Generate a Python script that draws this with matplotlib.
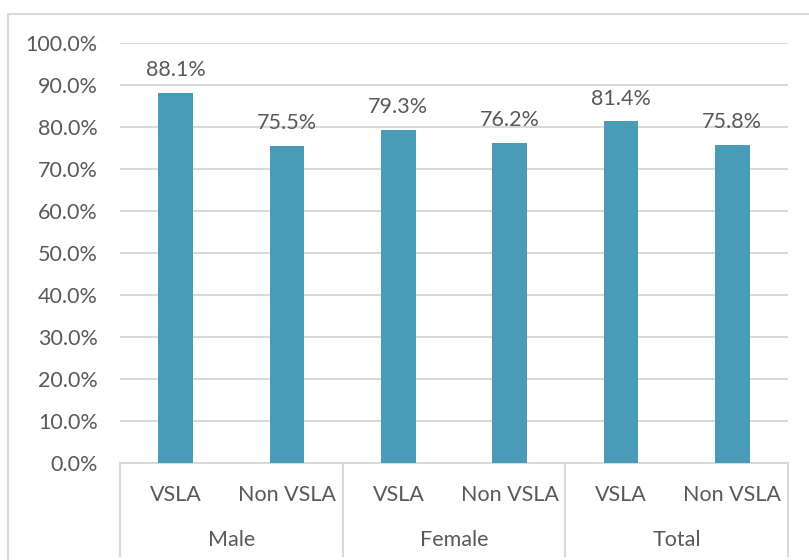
import matplotlib.pyplot as plt
from matplotlib.patches import Rectangle
from matplotlib.ticker import FuncFormatter

groups = ['Male', 'Female', 'Total']
subgroups = ['VSLA', 'Non VSLA', 'VSLA', 'Non VSLA', 'VSLA', 'Non VSLA']
values = [88.1, 75.5, 79.3, 76.2, 81.4, 75.8]

plt.rcParams['font.family'] = ['Lato', 'DejaVu Sans']
txt = '#595959'
grid = '#d9d9d9'
bar_col = '#4a9bb7'
fs = 15.5

W, H = 809, 560
fig = plt.figure(figsize=(W / 100, H / 100), dpi=100)
ax = fig.add_axes([120 / W, 1 - 463 / H, (788 - 120) / W, (463 - 43) / H])

x = [i + 0.5 for i in range(len(values))]
ax.bar(x, values, width=0.31, color=bar_col, zorder=3)
for xi, v in zip(x, values):
    ax.annotate(f'{v:.1f}%', (xi, v), xytext=(0, 9), textcoords='offset points',
                ha='center', va='bottom', fontsize=fs, color=txt)

ax.set_xlim(0, 6)
ax.set_ylim(0, 100)
ax.set_yticks(range(0, 101, 10))
ax.yaxis.set_major_formatter(FuncFormatter(lambda v, p: f'{v:.1f}%'))
ax.tick_params(axis='y', length=0, labelsize=fs, labelcolor=txt, pad=16)
ax.set_xticks([])
ax.grid(axis='y', color=grid, lw=1.5, zorder=0)
for s in ['left', 'right', 'top']:
    ax.spines[s].set_visible(False)
ax.spines['bottom'].set_color(grid)
ax.spines['bottom'].set_linewidth(1.5)

trans = ax.get_xaxis_transform()
depth = (556 - 463) / (463 - 43)
for xs in [0, 2, 4, 6]:
    ax.plot([xs, xs], [0, -depth], transform=trans, color=grid, lw=1.5, clip_on=False)
for xi, s in zip(x, subgroups):
    ax.text(xi, -32 / 420, s, transform=trans, ha='center', va='center',
            fontsize=fs, color=txt)
for i, g in enumerate(groups):
    ax.text(2 * i + 1, -77 / 420, g, transform=trans, ha='center', va='center',
            fontsize=fs, color=txt)

fig.patches.append(Rectangle((8 / W, -0.1), 1.2, 1.1 - 14 / H, transform=fig.transFigure,
                             fill=False, edgecolor=grid, lw=1.5))

fig.savefig('out.png', dpi=100)
